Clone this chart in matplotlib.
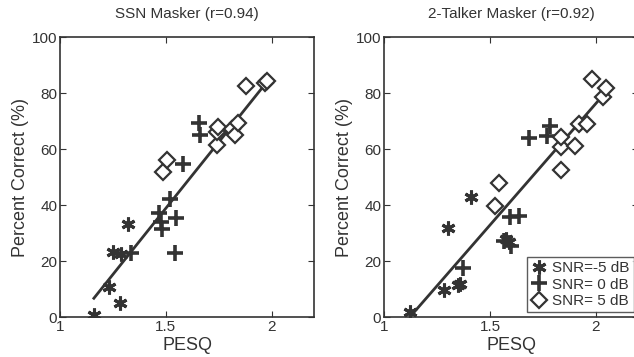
import numpy as np
import matplotlib.pyplot as plt

plt.rcParams['font.family'] = ['Liberation Sans', 'DejaVu Sans']

# SSN masker
ssn_m5_x = [1.16, 1.233, 1.285, 1.319, 1.25, 1.29]
ssn_m5_y = [0.7, 10.8, 5.1, 33.2, 23.1, 22.5]
ssn_0_x = [1.334, 1.467, 1.475, 1.48, 1.518, 1.549, 1.544, 1.583, 1.658, 1.661]
ssn_0_y = [22.7, 37.0, 34.0, 31.4, 42.1, 35.2, 23.0, 54.6, 69.2, 65.0]
ssn_5_x = [1.487, 1.505, 1.74, 1.743, 1.746, 1.81, 1.824, 1.84, 1.879, 1.967, 1.977]
ssn_5_y = [51.9, 56.0, 61.4, 66.2, 68.0, 67.0, 65.0, 69.2, 82.5, 83.5, 84.3]
ssn_fit = [(1.16, 6.7), (1.983, 84.6)]

# 2-talker masker
tt_m5_x = [1.121, 1.285, 1.347, 1.358, 1.304, 1.41, 1.576, 1.589]
tt_m5_y = [1.8, 9.5, 11.3, 11.9, 31.8, 43.0, 27.9, 26.7]
tt_0_x = [1.371, 1.601, 1.597, 1.639, 1.682, 1.771, 1.783, 1.565]
tt_0_y = [17.6, 25.5, 35.6, 36.2, 63.9, 64.5, 68.3, 27.3]
tt_5_x = [1.523, 1.545, 1.835, 1.835, 1.835, 1.903, 1.919, 1.958, 1.981, 2.033, 2.048]
tt_5_y = [39.8, 47.9, 52.6, 60.8, 64.4, 61.2, 69.1, 69.1, 84.9, 78.6, 81.9]
tt_fit = [(1.129, 0.6), (2.045, 80.2)]

titles = ['SSN Masker (r=0.94)', '2-Talker Masker (r=0.92)']
labels = ['SNR=-5 dB', 'SNR= 0 dB', 'SNR= 5 dB']

c = '#333333'
fig = plt.figure(figsize=(6.34, 3.57), dpi=100)
ax1 = fig.add_axes([0.0946, 0.112, 0.401, 0.784])
ax2 = fig.add_axes([0.6057, 0.112, 0.401, 0.784])

panels = [
    (ax1, ssn_m5_x, ssn_m5_y, ssn_0_x, ssn_0_y, ssn_5_x, ssn_5_y, ssn_fit),
    (ax2, tt_m5_x, tt_m5_y, tt_0_x, tt_0_y, tt_5_x, tt_5_y, tt_fit),
]

for i, (ax, ax5, ay5, a0x, a0y, p5x, p5y, fit) in enumerate(panels):
    (x0, y0), (x1, y1) = fit
    ax.plot([x0, x1], [y0, y1], color=c, lw=2)
    ax.plot(ax5, ay5, ls='none', marker=(6, 2, 0), ms=10, mew=2.2, color=c, label=labels[0])
    ax.plot(a0x, a0y, ls='none', marker='+', ms=11, mew=2.6, color=c, label=labels[1])
    ax.plot(p5x, p5y, ls='none', marker='D', ms=8, mew=1.6, mfc='white', mec=c, label=labels[2])
    ax.set_xlim(1, 2.2)
    ax.set_ylim(0, 100)
    ax.set_xticks([1, 1.5, 2])
    ax.set_xticklabels(['1', '1.5', '2'])
    ax.set_yticks([0, 20, 40, 60, 80, 100])
    ax.tick_params(direction='in', top=True, right=True, length=4, labelsize=11, colors=c, pad=2)
    for s in ax.spines.values():
        s.set_color(c)
        s.set_linewidth(1.2)
    ax.set_title(titles[i], fontsize=11, color=c, pad=14)
    ax.set_xlabel('PESQ', fontsize=13, color=c, labelpad=2)
    ax.set_ylabel('Percent Correct (%)', fontsize=13, color=c, labelpad=2)

leg = ax2.legend(loc='lower right', fontsize=11, frameon=True, fancybox=False,
                 borderpad=0.3, labelspacing=0.15, handletextpad=0.3, handlelength=1.0,
                 borderaxespad=0.3)
leg.get_frame().set_edgecolor(c)
leg.get_frame().set_linewidth(1.0)
for t in leg.get_texts():
    t.set_color(c)

fig.savefig('out.png', dpi=100)
